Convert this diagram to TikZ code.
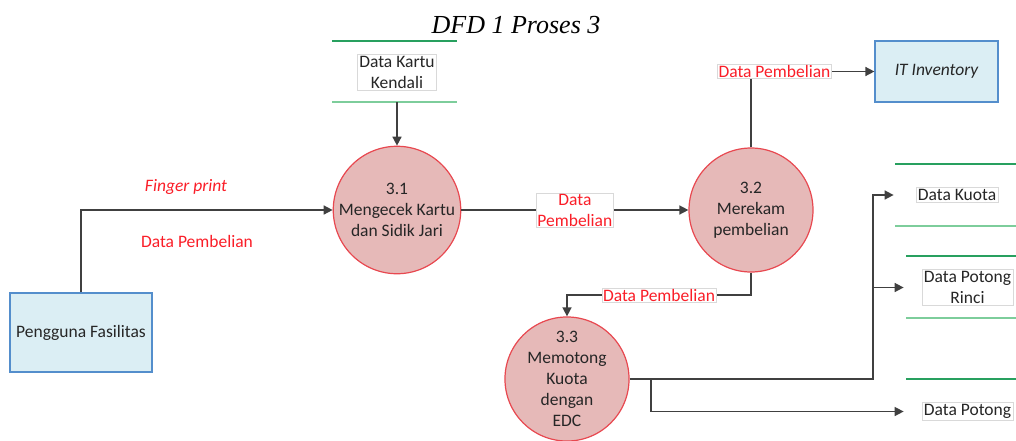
\documentclass[tikz,border=0pt]{standalone}
\usepackage{fontspec}
\setmainfont{Liberation Serif}
\newfontfamily\calibri{Carlito}
\usetikzlibrary{positioning,arrows.meta}
\definecolor{procfill}{RGB}{230,185,184}
\definecolor{procline}{RGB}{232,72,80}
\definecolor{entfill}{RGB}{219,238,244}
\definecolor{entline}{RGB}{84,142,204}
\definecolor{storetop}{RGB}{40,160,95}
\definecolor{storebot}{RGB}{125,205,155}
\definecolor{flowred}{RGB}{250,30,40}
\definecolor{wire}{RGB}{64,64,64}
\newcommand{\dfdfont}{\calibri\fontsize{17.5}{21}\selectfont}
\begin{document}
\begin{tikzpicture}[x=1pt,y=-1pt,>={Triangle[length=9pt,width=9pt]},
    process/.style={circle,draw=procline,fill=procfill,line width=1.2pt,minimum size=124pt,inner sep=0pt,align=center,font=\dfdfont,text=black!85},
    entity/.style={rectangle,draw=entline,fill=entfill,line width=1.2pt,align=center,font=\dfdfont,text=black!85},
    storetext/.style={draw=black!15,fill=white,line width=0.5pt,align=center,inner sep=2pt,font=\dfdfont,text=black!85},
    flowlabel/.style={text=flowred,align=center,inner sep=1pt,font=\dfdfont},
    boxlabel/.style={flowlabel,draw=black!15,fill=white,line width=0.5pt},
    flow/.style={draw=wire,line width=1.5pt,->},
    topline/.style={draw=storetop,line width=2pt},
    botline/.style={draw=storebot,line width=2pt}]
        \useasboundingbox (0,0) rectangle (1016,440);

        \node[font=\fontsize{26}{30}\selectfont\itshape,anchor=base] at (516,33) (title) {DFD 1 Proses 3};

        \node[process] at (397,210) (p1) {3.1\\Mengecek Kartu\\dan Sidik Jari};
        \node[process] at (751,210) (p2) {3.2\\Merekam\\pembelian};
        \node[process] at (567,379) (p3) {3.3\\Memotong\\Kuota\\dengan\\EDC};

        \node[entity,minimum width=142pt,minimum height=79pt] at (81,332.5) (user) {Pengguna Fasilitas};
        \node[entity,minimum width=123pt,minimum height=61pt,font=\dfdfont\itshape] at (936.5,71.5) (it) {IT Inventory};

        \node[storetext] at (397,72) (kartu) {Data Kartu\\Kendali};
        \node[storetext] at (957,195) (kuota) {Data Kuota};
        \node[storetext] at (967.5,287.5) (rinci) {Data Potong\\Rinci};
        \node[storetext] at (967.5,411.5) (potong) {Data Potong};

        \draw[topline] (332,41) -- (457,41);
        \draw[botline] (332,102) -- (457,102);
        \draw[topline] (895,164) -- (1016,164);
        \draw[botline] (895,226) -- (1016,226);
        \draw[topline] (906,256) -- (1016,256);
        \draw[botline] (906,318) -- (1016,318);
        \draw[topline] (906,379) -- (1016,379);

        \coordinate (kk) at (397,102);
        \coordinate (k2) at (751,295);
        \coordinate (j1) at (873,379);
        \coordinate (j2) at (651,379);

        \draw[flow] (kk) -- (p1.north);
        \draw[flow] (user.north) |- (p1.west);
        \node[flowlabel,font=\dfdfont\itshape] at (186,187) (fp) {Finger print};
        \node[flowlabel] at (197,241) (dp1) {Data Pembelian};

        \draw[flow] (p1.east) -- node[boxlabel] (dp2) {Data\\Pembelian} (p2.west);
        \draw[flow] (p2.north) |- node[boxlabel,pos=0.595] (dp3) {Data Pembelian} (it.west);
        \draw[flow] (p2.south) -- (k2) -| (p3.north);
        \node[boxlabel] at (659,295.5) (dp4) {Data Pembelian};

        \draw[flow,shorten >=22pt] (p3.east) -- (j1) |- (kuota.west);
        \draw[flow,shorten >=18pt] (j1 |- rinci.west) -- (rinci.west);
        \draw[flow,shorten >=18pt] (j2) |- (potong.west);
\end{tikzpicture}
\end{document}
